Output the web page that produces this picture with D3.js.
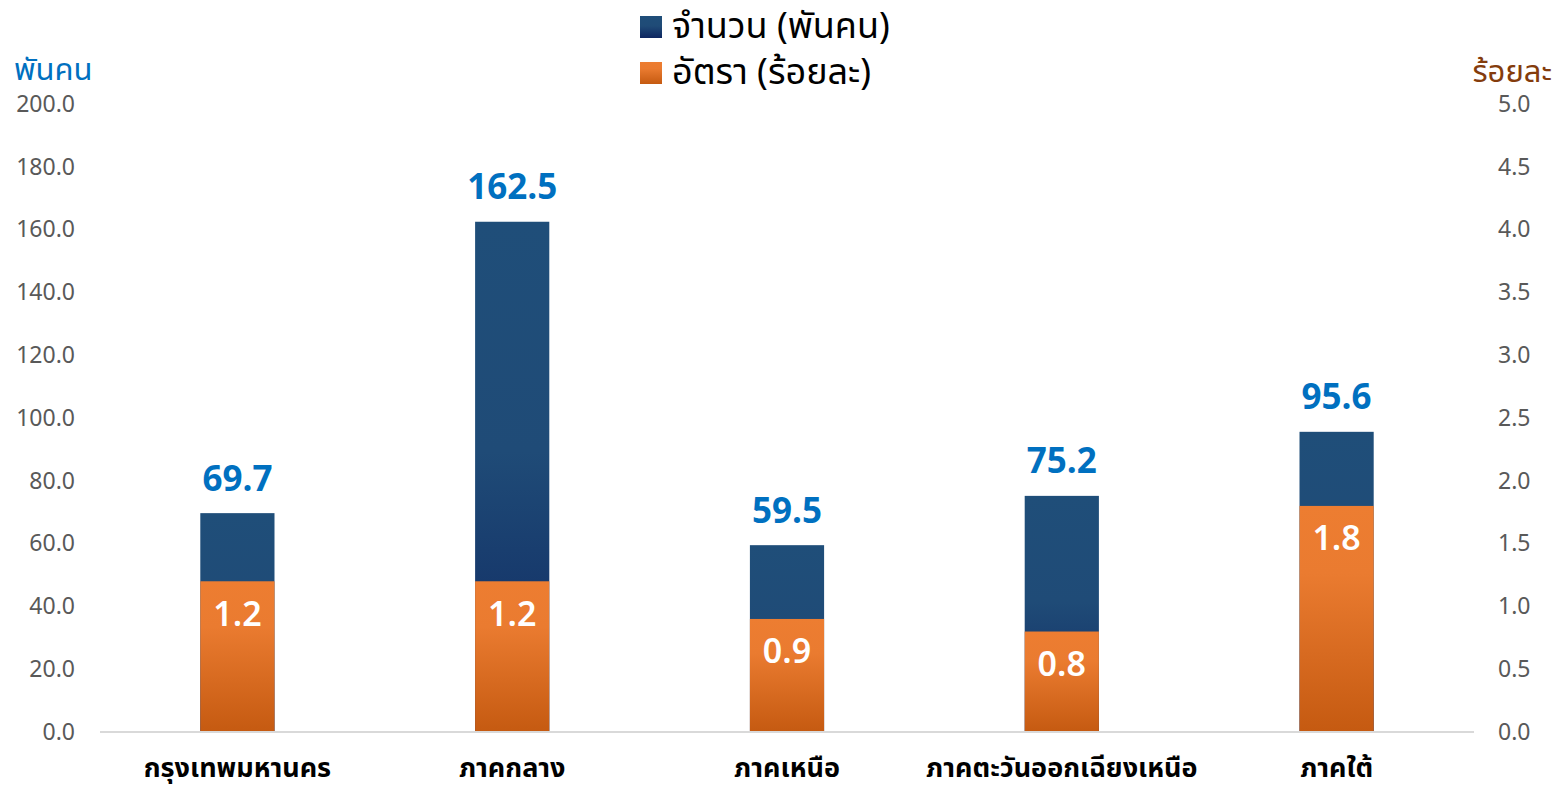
<!DOCTYPE html>
<html>
<head>
<meta charset="utf-8">
<script src="https://cdn.jsdelivr.net/npm/d3@7"></script>
<style>
	body { margin: 0; background: #fff; }
	svg text { font-family: "Noto Sans Thai", "Loma", "Noto Sans", "DejaVu Sans", sans-serif; }
</style>
</head>
<body>
<svg class="chart"></svg>
<script>
// Thai unemployment by region: count (thousand persons) and rate (percent)
var regions = ["กรุงเทพมหานคร", "ภาคกลาง", "ภาคเหนือ", "ภาคตะวันออกเฉียงเหนือ", "ภาคใต้"];
var counts = [69.7, 162.5, 59.5, 75.2, 95.6];
var rates = [1.2, 1.2, 0.9, 0.8, 1.8];
var leftTicks = [0, 20, 40, 60, 80, 100, 120, 140, 160, 180, 200];
var rightTicks = [0, 0.5, 1, 1.5, 2, 2.5, 3, 3.5, 4, 4.5, 5];
var legendLabels = ["จำนวน (พันคน)", "อัตรา (ร้อยละ)"];

var W = 1557, H = 786;
var margin = {top: 104, right: 83, bottom: 54, left: 100},
	width = W - margin.left - margin.right,
	height = H - margin.top - margin.bottom;

var svg = d3.select(".chart").attr("width", W).attr("height", H);

var defs = svg.append("defs");
var gBlue = defs.append("linearGradient").attr("id", "gBlue")
	.attr("x1", 0).attr("y1", 0).attr("x2", 0).attr("y2", 1);
gBlue.append("stop").attr("offset", 0).attr("stop-color", "#1F4E79");
gBlue.append("stop").attr("offset", 0.45).attr("stop-color", "#1F4B77");
gBlue.append("stop").attr("offset", 1).attr("stop-color", "#0E2660");
var gOrange = defs.append("linearGradient").attr("id", "gOrange")
	.attr("x1", 0).attr("y1", 0).attr("x2", 0).attr("y2", 1);
gOrange.append("stop").attr("offset", 0).attr("stop-color", "#ED7D31");
gOrange.append("stop").attr("offset", 0.3).attr("stop-color", "#EA7B30");
gOrange.append("stop").attr("offset", 1).attr("stop-color", "#C55A11");

var chart = svg.append("g")
	.attr("transform", "translate(" + margin.left + "," + margin.top + ")");

var x = d3.scaleBand()
	.domain(regions)
	.range([0, width])
	.paddingInner(0.73)
	.paddingOuter(0.365);

var y = d3.scaleLinear().domain([0, 200]).range([height, 0]);
var y2 = d3.scaleLinear().domain([0, 5]).range([height, 0]);

// left axis
var yAxis = d3.axisLeft(y).tickValues(leftTicks).tickSize(0).tickPadding(25)
	.tickFormat(d3.format(".1f"));
var gy = chart.append("g").call(yAxis);
gy.select(".domain").remove();
gy.selectAll("text").attr("fill", "#595959").style("font-size", "23px");

// right axis
var y2Axis = d3.axisRight(y2).tickValues(rightTicks).tickSize(0).tickPadding(24)
	.tickFormat(d3.format(".1f"));
var gy2 = chart.append("g").attr("transform", "translate(" + width + ",0)").call(y2Axis);
gy2.select(".domain").remove();
gy2.selectAll("text").attr("fill", "#595959").style("font-size", "23px");

// bars
var data = regions.map(function(r, i) { return {name: r, count: counts[i], rate: rates[i]}; });

chart.selectAll(".bar")
	.data(data)
  .enter().append("rect")
	.attr("class", "bar")
	.attr("x", function(d) { return x(d.name); })
	.attr("y", function(d) { return y(d.count); })
	.attr("width", x.bandwidth())
	.attr("height", function(d) { return height - y(d.count); })
	.attr("fill", "url(#gBlue)");

chart.selectAll(".rbar")
	.data(data)
  .enter().append("rect")
	.attr("class", "rbar")
	.attr("x", function(d) { return x(d.name); })
	.attr("y", function(d) { return y2(d.rate); })
	.attr("width", x.bandwidth())
	.attr("height", function(d) { return height - y2(d.rate); })
	.attr("fill", "url(#gOrange)");

// baseline
chart.append("line")
	.attr("x1", 0).attr("x2", width)
	.attr("y1", height).attr("y2", height)
	.attr("stroke", "#D9D9D9").attr("stroke-width", 2);

// value labels
chart.selectAll(".clabel")
	.data(data)
  .enter().append("text")
	.attr("x", function(d) { return x(d.name) + x.bandwidth() / 2; })
	.attr("y", function(d) { return y(d.count) - 33; })
	.attr("text-anchor", "middle")
	.attr("dominant-baseline", "central")
	.attr("fill", "#0070C0")
	.style("font-size", "35px")
	.style("font-weight", "bold")
	.text(function(d) { return d.count.toFixed(1); });

chart.selectAll(".rlabel")
	.data(data)
  .enter().append("text")
	.attr("x", function(d) { return x(d.name) + x.bandwidth() / 2; })
	.attr("y", function(d) { return y2(d.rate) + 34; })
	.attr("text-anchor", "middle")
	.attr("dominant-baseline", "central")
	.attr("fill", "#fff")
	.style("font-size", "34px")
	.style("font-weight", "600")
	.text(function(d) { return d.rate.toFixed(1); });

// category labels
chart.selectAll(".cat")
	.data(regions)
  .enter().append("text")
	.attr("x", function(d) { return x(d) + x.bandwidth() / 2; })
	.attr("y", height + 36)
	.attr("text-anchor", "middle")
	.attr("dominant-baseline", "central")
	.attr("fill", "#000")
	.style("font-size", "27px")
	.style("font-weight", "bold")
	.text(function(d) { return d; });

// axis titles
svg.append("text")
	.attr("x", 14).attr("y", 70)
	.attr("dominant-baseline", "central")
	.attr("fill", "#0070C0")
	.style("font-size", "31px")
	.text("พันคน");

svg.append("text")
	.attr("x", 1552).attr("y", 72)
	.attr("text-anchor", "end")
	.attr("dominant-baseline", "central")
	.attr("fill", "#843C0C")
	.style("font-size", "31px")
	.text("ร้อยละ");

// legend
var legend = svg.append("g");
var fills = ["url(#gBlue)", "url(#gOrange)"];
legendLabels.forEach(function(l, i) {
	var ly = 27 + i * 46;
	legend.append("rect")
		.attr("x", 640).attr("y", ly - 11)
		.attr("width", 22).attr("height", 22)
		.attr("fill", fills[i]);
	legend.append("text")
		.attr("x", 672).attr("y", ly)
		.attr("dominant-baseline", "central")
		.attr("fill", "#000")
		.style("font-size", "36px")
		.text(l);
});
</script>
</body>
</html>
